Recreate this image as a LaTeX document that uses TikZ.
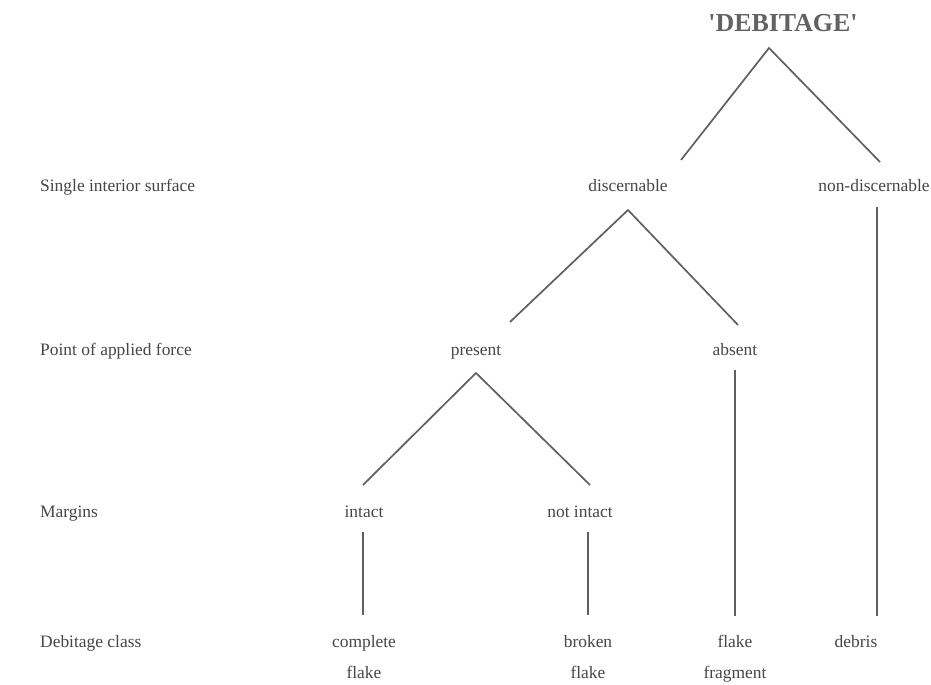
\documentclass[tikz,border=0pt]{standalone}
\usepackage{fontspec}
\setmainfont{Liberation Serif}
\definecolor{ink}{RGB}{70,70,70}
\definecolor{linecol}{RGB}{95,95,95}
\begin{document}
\begin{tikzpicture}[x=1bp,y=-1bp,
  lbl/.style={anchor=base,inner sep=0pt,text=ink,font=\fontsize{17.5}{19}\selectfont},
  side/.style={anchor=base west,inner sep=0pt,text=ink,font=\fontsize{17.5}{19}\selectfont},
  ttl/.style={anchor=base,inner sep=0pt,text=ink!85,font=\fontsize{26}{28}\selectfont\bfseries},
  edge/.style={draw=linecol,line width=1.7bp}]
\useasboundingbox (0,0) rectangle (931,685);
% title
\node[ttl] (title) at (783,32) {\textquotesingle DEBITAGE\textquotesingle};
% side labels
\node[side] (s1) at (40,191) {Single interior surface};
\node[side] (s2) at (40,355) {Point of applied force};
\node[side] (s3) at (40,517) {Margins};
\node[side] (s4) at (40,647) {Debitage class};
% level 1
\node[lbl] (disc) at (628,191) {discernable};
\node[lbl] (ndisc) at (874,191) {non-discernable};
% level 2
\node[lbl] (pres) at (476,355) {present};
\node[lbl] (abs) at (735,355) {absent};
% level 3
\node[lbl] (intact) at (364,517) {intact};
\node[lbl] (nintact) at (580,517) {not intact};
% level 4
\node[lbl] (compl) at (364,647) {complete};
\node[lbl] (compl2) at (364,678) {flake};
\node[lbl] (brok) at (588,647) {broken};
\node[lbl] (brok2) at (588,678) {flake};
\node[lbl] (frag) at (735,647) {flake};
\node[lbl] (frag2) at (735,678) {fragment};
\node[lbl] (deb) at (856,647) {debris};
% connector points
\coordinate (a0) at (769,48);
\coordinate (a0l) at (681,160);
\coordinate (a0r) at (880,162);
\coordinate (a1) at (628,210);
\coordinate (a1l) at (510,322);
\coordinate (a1r) at (738,325);
\coordinate (a2) at (476,373);
\coordinate (a2l) at (363,485);
\coordinate (a2r) at (590,485);
\coordinate (v1t) at (363,532);
\coordinate (v1b) at (363,615);
\coordinate (v2t) at (588,532);
\coordinate (v2b) at (588,615);
\coordinate (v3t) at (735,370);
\coordinate (v3b) at (735,616);
\coordinate (v4t) at (877,207);
\coordinate (v4b) at (877,616);
% connectors
\draw[edge] (a0l) -- (a0) -- (a0r);
\draw[edge] (a1l) -- (a1) -- (a1r);
\draw[edge] (a2l) -- (a2) -- (a2r);
\draw[edge] (v1t) -- (v1b);
\draw[edge] (v2t) -- (v2b);
\draw[edge] (v3t) -- (v3b);
\draw[edge] (v4t) -- (v4b);
\end{tikzpicture}
\end{document}
